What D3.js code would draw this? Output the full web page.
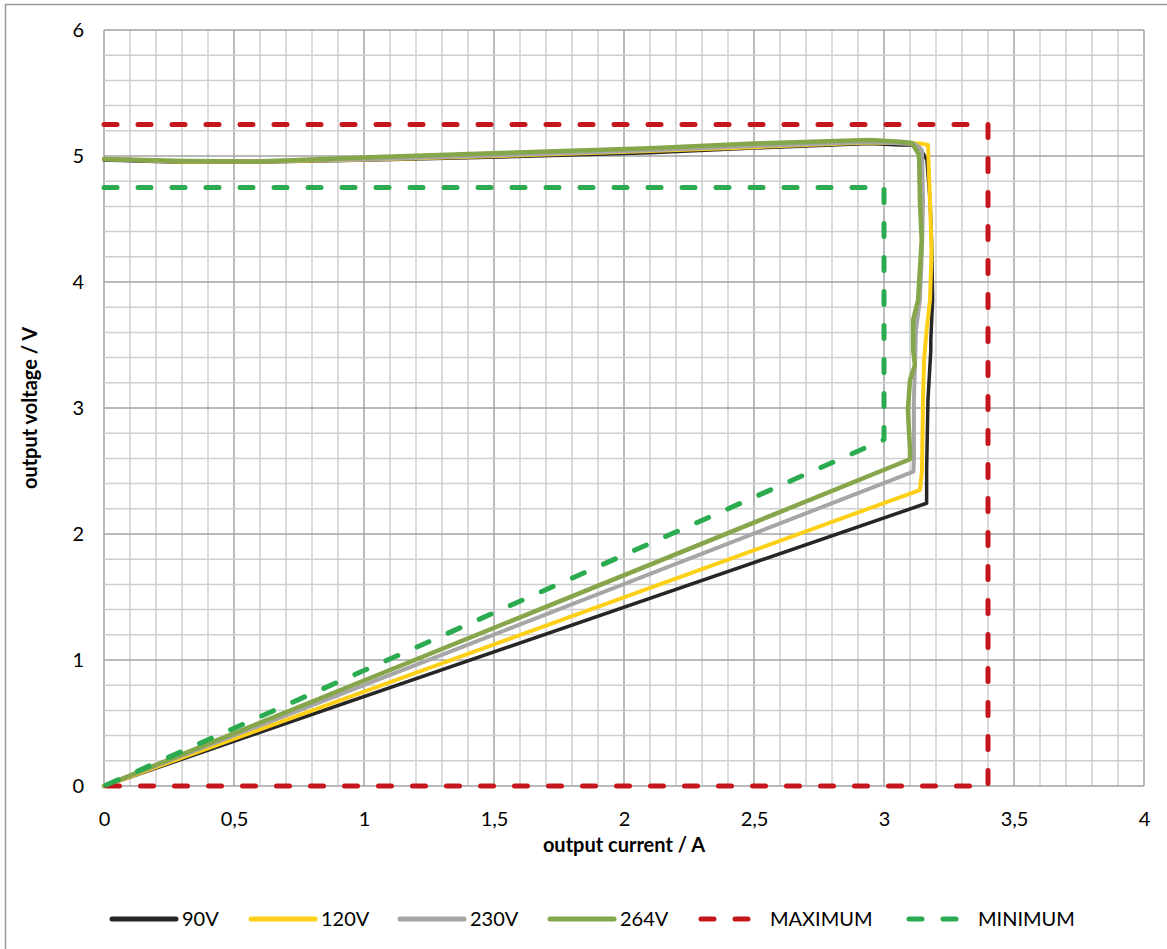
<!DOCTYPE html>
<html lang="en">
<head>
<meta charset="UTF-8">
<title>Output characteristic</title>
<script src="https://d3js.org/d3.v7.min.js"></script>
<style>
  body { margin: 0; padding: 0; background: #fff; }
  svg { font-family: Lato, "Liberation Sans", sans-serif; }
  .tick text { font-size: 20px; fill: #000; }
  .title { font-size: 20px; font-weight: bold; }
  .legend text { font-size: 20px; }
</style>
</head>
<body>
<svg id="chart" width="1167" height="949"></svg>
<script>
// measured curves, pairs of [output current A, output voltage V]
const curve90 = [[0,0],[3.164,2.244],[3.164,2.51],[3.169,3.06],[3.18,3.46],[3.18,3.54],[3.187,3.86],[3.183,4.33],[3.177,4.65],[3.165,4.97],[3.131,5.087],[3.062,5.087],[2.946,5.1],[2.5,5.063],[2.1,5.026],[1.523,4.992],[1.023,4.968],[0.6,4.952],[0.304,4.95],[0,4.968]];
const curve120 = [[0,0],[3.138,2.349],[3.146,2.5],[3.15,3.06],[3.154,3.38],[3.164,3.62],[3.177,3.86],[3.183,4.25],[3.177,4.65],[3.169,5.087],[3.14,5.1],[2.946,5.107],[2.5,5.07],[2.1,5.04],[1.523,5.0],[1.023,4.972],[0.6,4.956],[0.304,4.955],[0,4.976]];
const curve230 = [[0,0],[3.113,2.495],[3.115,2.59],[3.115,3.06],[3.123,3.62],[3.138,3.86],[3.146,4.25],[3.15,4.65],[3.146,5.048],[3.119,5.095],[2.946,5.111],[2.5,5.08],[2.1,5.045],[1.523,5.005],[1.023,4.975],[0.6,4.96],[0.304,4.958],[0,4.976]];
const curve264 = [[0,0],[3.1,2.593],[3.1,2.667],[3.092,2.984],[3.1,3.222],[3.119,3.341],[3.112,3.46],[3.112,3.698],[3.131,3.857],[3.145,4.333],[3.138,4.651],[3.135,5.008],[3.108,5.103],[3.062,5.113],[2.946,5.127],[2.5,5.099],[2.1,5.061],[1.523,5.024],[1.023,4.99],[0.6,4.956],[0.304,4.96],[0,4.976]];
// tolerance limits
const limitMax = [[0,5.25],[3.4,5.25],[3.4,0],[0,0]];
const limitMin = [[0,4.75],[3,4.75],[3,2.75],[0,0]];

const seriesNames = ["90V", "120V", "230V", "264V", "MAXIMUM", "MINIMUM"];
const xTicks = [0, 0.5, 1, 1.5, 2, 2.5, 3, 3.5, 4];
const yTicks = [0, 1, 2, 3, 4, 5, 6];

const series = [
  { name: seriesNames[0], data: curve90,  color: "#262626", width: 3.5, dash: null },
  { name: seriesNames[1], data: curve120, color: "#fdd017", width: 4,   dash: null },
  { name: seriesNames[2], data: curve230, color: "#a6a6a6", width: 4,   dash: null },
  { name: seriesNames[3], data: curve264, color: "#86a64b", width: 4.5, dash: null },
  { name: seriesNames[4], data: limitMax, color: "#c5161d", width: 5,   dash: "13,21" },
  { name: seriesNames[5], data: limitMin, color: "#2bab50", width: 5,   dash: "13,21" }
];

const svg = d3.select("#chart");
const plotLeft = 104, plotRight = 1144, plotTop = 30, plotBottom = 786;

// outer frame (only top/left edges fall inside the picture)
svg.append("rect")
  .attr("x", 5.5).attr("y", 4.5)
  .attr("width", 1200).attr("height", 1000)
  .attr("fill", "none").attr("stroke", "#9a9a9a").attr("stroke-width", 1.5);

const x = d3.scaleLinear().domain([0, 4]).range([plotLeft, plotRight]);
const y = d3.scaleLinear().domain([0, 6]).range([plotBottom, plotTop]);

// grid: minor every 0.1 A / 0.2 V, major every 0.5 A / 1 V
const minorX = d3.range(0, 41).map(i => i / 10);
const minorY = d3.range(0, 31).map(i => i / 5);
const grid = svg.append("g");
grid.selectAll(".vx").data(minorX).join("line")
  .attr("x1", d => x(d)).attr("x2", d => x(d))
  .attr("y1", plotTop).attr("y2", plotBottom)
  .attr("stroke", d => (Math.round(d * 10) % 5 === 0) ? "#a3a3a3" : "#cfcfcf")
  .attr("stroke-width", 1.5);
grid.selectAll(".hy").data(minorY).join("line")
  .attr("y1", d => y(d)).attr("y2", d => y(d))
  .attr("x1", plotLeft).attr("x2", plotRight)
  .attr("stroke", d => (Math.round(d * 5) % 5 === 0) ? "#a3a3a3" : "#cfcfcf")
  .attr("stroke-width", 1.5);

// axes (labels only)
const fmt = d => String(d).replace(".", ",");
const xAxis = svg.append("g")
  .attr("transform", `translate(0,${plotBottom})`)
  .call(d3.axisBottom(x).tickValues(xTicks).tickFormat(fmt).tickSize(0).tickPadding(26));
const yAxis = svg.append("g")
  .attr("transform", `translate(${plotLeft},0)`)
  .call(d3.axisLeft(y).tickValues(yTicks).tickFormat(fmt).tickSize(0).tickPadding(20));
xAxis.select(".domain").remove();
yAxis.select(".domain").remove();
svg.selectAll(".tick text").attr("font-family", "Lato, 'Liberation Sans', sans-serif");

// series lines
const line = d3.line().x(d => x(d[0])).y(d => y(d[1]));
series.forEach(s => {
  svg.append("path")
    .datum(s.data)
    .attr("d", line)
    .attr("fill", "none")
    .attr("stroke", s.color)
    .attr("stroke-width", s.width)
    .attr("stroke-linejoin", "round")
    .attr("stroke-linecap", "round")
    .attr("stroke-dasharray", s.dash);
});

// axis titles
svg.append("text").attr("class", "title")
  .attr("x", (plotLeft + plotRight) / 2).attr("y", 852)
  .attr("text-anchor", "middle")
  .text("output current / A");
svg.append("text").attr("class", "title")
  .attr("transform", `translate(37,${(plotTop + plotBottom) / 2}) rotate(-90)`)
  .attr("text-anchor", "middle")
  .text("output voltage / V");

// legend
const legendX = [112, 251, 400, 550, 701, 909];
const legendY = 919;
const legend = svg.append("g").attr("class", "legend");
series.forEach((s, i) => {
  const len = s.dash ? 51 : 64;
  legend.append("line")
    .attr("x1", legendX[i]).attr("x2", legendX[i] + len)
    .attr("y1", legendY).attr("y2", legendY)
    .attr("stroke", s.color)
    .attr("stroke-width", 5)
    .attr("stroke-linecap", "round")
    .attr("stroke-dasharray", s.dash);
  legend.append("text")
    .attr("x", legendX[i] + len + (s.dash ? 18 : 6))
    .attr("y", legendY)
    .attr("dy", "0.35em")
    .text(s.name);
});
</script>
</body>
</html>
